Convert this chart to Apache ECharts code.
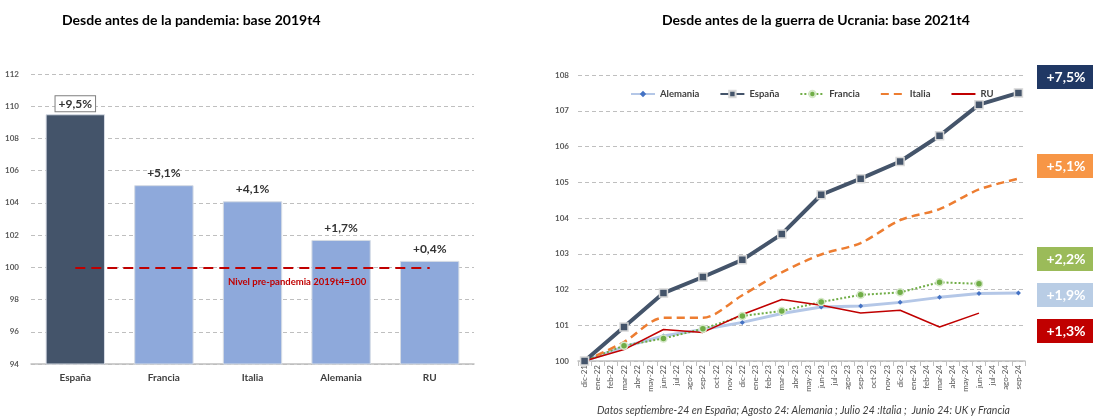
<!DOCTYPE html>
<html>
<head>
<meta charset="utf-8">
<script src="https://cdn.jsdelivr.net/npm/echarts@6/dist/echarts.min.js"></script>
<style>
  html, body { margin: 0; padding: 0; background: #fff; }
  #chart { width: 1093px; height: 419px; }
</style>
</head>
<body>
<div id="chart"></div>
<script>
// left panel: level vs 2019t4 = 100
const paises = ['España', 'Francia', 'Italia', 'Alemania', 'RU'];
const nivel2019 = [109.5, 105.1, 104.1, 101.7, 100.4];
const ticksIzq = [94, 112, 2];

// right panel: base 2021t4 = 100, quarterly points on a monthly axis
const meses = ['dic-21',
  'ene-22', 'feb-22', 'mar-22', 'abr-22', 'may-22', 'jun-22', 'jul-22', 'ago-22', 'sep-22', 'oct-22', 'nov-22', 'dic-22',
  'ene-23', 'feb-23', 'mar-23', 'abr-23', 'may-23', 'jun-23', 'jul-23', 'ago-23', 'sep-23', 'oct-23', 'nov-23', 'dic-23',
  'ene-24', 'feb-24', 'mar-24', 'abr-24', 'may-24', 'jun-24', 'jul-24', 'ago-24', 'sep-24'];
const trimestres = ['dic-21', 'mar-22', 'jun-22', 'sep-22', 'dic-22', 'mar-23', 'jun-23', 'sep-23', 'dic-23', 'mar-24', 'jun-24', 'sep-24'];
const alemania = [100, 100.4, 100.7, 100.88, 101.08, 101.33, 101.51, 101.54, 101.64, 101.78, 101.89, 101.9];
const espana   = [100, 100.95, 101.9, 102.35, 102.83, 103.55, 104.65, 105.1, 105.58, 106.3, 107.17, 107.5];
const francia  = [100, 100.43, 100.63, 100.9, 101.26, 101.4, 101.65, 101.85, 101.92, 102.2, 102.16];
const italia   = [100, 100.53, 101.21, 101.21, 101.84, 102.48, 102.98, 103.3, 103.94, 104.25, 104.8, 105.1];
const ru       = [100, 100.32, 100.88, 100.8, 101.3, 101.72, 101.56, 101.34, 101.42, 100.95, 101.34];
const ticksDer = [100, 108, 1];

const badges = [
  { text: '+7,5%', color: '#203864', y: 77 },
  { text: '+5,1%', color: '#F79646', y: 166 },
  { text: '+2,2%', color: '#9BBB59', y: 259 },
  { text: '+1,9%', color: '#B9CDE5', y: 295 },
  { text: '+1,3%', color: '#C00000', y: 331 }
];

const FONT = 'Lato';
const pct = v => '+' + (v - 100).toFixed(1).replace('.', ',') + '%';
const pares = arr => arr.map((v, i) => [trimestres[i], v]);

const chart = echarts.init(document.getElementById('chart'), null, { renderer: 'canvas' });

const graphic = [
  {
    type: 'text', left: 228, top: 277, z: 100,
    style: { text: 'Nivel pre-pandemia 2019t4=100', fill: '#C00000', font: 'bold 9.5px ' + FONT }
  },
  {
    type: 'text', left: 597, top: 405, z: 100,
    style: {
      text: 'Datos septiembre-24 en España; Agosto 24: Alemania ; Julio 24 :Italia ;  Junio 24: UK y Francia',
      fill: '#404040', font: 'italic 10.5px ' + FONT
    }
  }
];
badges.forEach(b => {
  graphic.push({
    type: 'rect', z: 100, shape: { x: 1037, y: b.y - 12, width: 60, height: 24 },
    style: { fill: b.color }
  });
  graphic.push({
    type: 'text', z: 101, x: 1066, y: b.y,
    style: { text: b.text, fill: '#fff', font: 'bold 14px ' + FONT, align: 'center', verticalAlign: 'middle' }
  });
});

const lineSeries = (name, arr, color, opts) => Object.assign({
  name: name,
  type: 'line',
  xAxisIndex: 1,
  yAxisIndex: 1,
  data: pares(arr),
  connectNulls: true,
  symbol: 'none',
  lineStyle: { color: color, width: 2 },
  itemStyle: { color: color }
}, opts);

const etiqueta = { fontSize: 12, fontWeight: 'bold', color: '#333' };

chart.setOption({
  animation: false,
  textStyle: { fontFamily: FONT },
  title: [
    { text: 'Desde antes de la pandemia: base 2019t4', left: 57, top: 8,
      textStyle: { fontFamily: FONT, fontSize: 14, fontWeight: 'bold', color: '#000' } },
    { text: 'Desde antes de la guerra de Ucrania: base 2021t4', left: 657, top: 8,
      textStyle: { fontFamily: FONT, fontSize: 14, fontWeight: 'bold', color: '#000' } }
  ],
  legend: {
    data: [
      'Alemania', 'España', 'Francia',
      { name: 'Italia', itemStyle: { opacity: 0 } },
      { name: 'RU', itemStyle: { opacity: 0 } }
    ],
    left: 625, top: 84,
    itemWidth: 24, itemHeight: 8, itemGap: 20,
    textStyle: { fontSize: 9.5, fontWeight: 'bold', color: '#404040' }
  },
  grid: [
    { left: 31, width: 443, top: 74, bottom: 55 },
    { left: 578, right: 68, top: 75, bottom: 58 }
  ],
  xAxis: [
    {
      type: 'category', gridIndex: 0, data: paises,
      axisLine: { lineStyle: { color: '#BFBFBF', width: 1.5 } },
      axisTick: { show: false },
      axisLabel: { fontSize: 10, fontWeight: 'bold', color: '#404040', margin: 9 }
    },
    {
      type: 'category', gridIndex: 1, data: meses,
      axisLine: { lineStyle: { color: '#BFBFBF', width: 1.5 } },
      axisTick: { show: true, interval: 0, lineStyle: { color: '#BFBFBF' } },
      axisLabel: { fontSize: 8, color: '#595959', rotate: 90, interval: 0, margin: 4 }
    }
  ],
  yAxis: [
    {
      type: 'value', gridIndex: 0, min: ticksIzq[0], max: ticksIzq[1], interval: ticksIzq[2],
      axisLine: { show: false }, axisTick: { show: false },
      axisLabel: { fontSize: 8, fontWeight: 'bold', color: '#595959', margin: 12 },
      splitLine: { lineStyle: { color: '#BFBFBF', type: [4, 3] } }
    },
    {
      type: 'value', gridIndex: 1, min: ticksDer[0], max: ticksDer[1], interval: ticksDer[2],
      axisLine: { show: false }, axisTick: { show: false },
      axisLabel: { fontSize: 8, fontWeight: 'bold', color: '#595959', margin: 9 },
      splitLine: { lineStyle: { color: '#BFBFBF', type: [4, 3] } }
    }
  ],
  series: [
    {
      type: 'bar',
      xAxisIndex: 0, yAxisIndex: 0,
      barCategoryGap: '33%',
      data: nivel2019.map((v, i) => ({
        value: v,
        itemStyle: { color: i === 0 ? '#44546A' : '#8EA9DB' },
        label: i === 0
          ? Object.assign({ borderColor: '#7F7F7F', borderWidth: 1, padding: [2, 3, 1, 3], distance: 3, backgroundColor: '#fff' }, etiqueta)
          : Object.assign({}, etiqueta)
      })),
      itemStyle: { borderColor: '#D6DCE5', borderWidth: 1 },
      label: Object.assign({
        show: true, position: 'top', distance: 6,
        formatter: p => pct(p.value)
      }, etiqueta),
      markLine: {
        silent: true,
        symbol: 'none',
        label: { show: false },
        lineStyle: { color: '#C00000', width: 2, type: [10, 6] },
        data: [[{ coord: [paises[0], 100] }, { coord: [paises[paises.length - 1], 100] }]]
      }
    },
    lineSeries('Alemania', alemania, '#B4C7E7', {
      symbol: 'diamond', symbolSize: 5,
      lineStyle: { color: '#B4C7E7', width: 3 },
      itemStyle: { color: '#4472C4' }
    }),
    lineSeries('España', espana, '#44546A', {
      symbol: 'rect', symbolSize: 8, z: 5,
      lineStyle: { color: '#44546A', width: 4 },
      itemStyle: { color: '#44546A', borderColor: '#D9D9D9', borderWidth: 1.5 }
    }),
    lineSeries('Francia', francia, '#70AD47', {
      symbol: 'circle', symbolSize: 7,
      lineStyle: { color: '#70AD47', width: 2, type: 'dotted' },
      itemStyle: { color: '#70AD47', borderColor: '#D5E8C8', borderWidth: 1.5 }
    }),
    lineSeries('Italia', italia, '#ED7D31', {
      smooth: 0.3,
      lineStyle: { color: '#ED7D31', width: 2.5, type: [8, 5] }
    }),
    lineSeries('RU', ru, '#C00000', {
      lineStyle: { color: '#C00000', width: 1.5 }
    })
  ],
  graphic: graphic
});
</script>
</body>
</html>
